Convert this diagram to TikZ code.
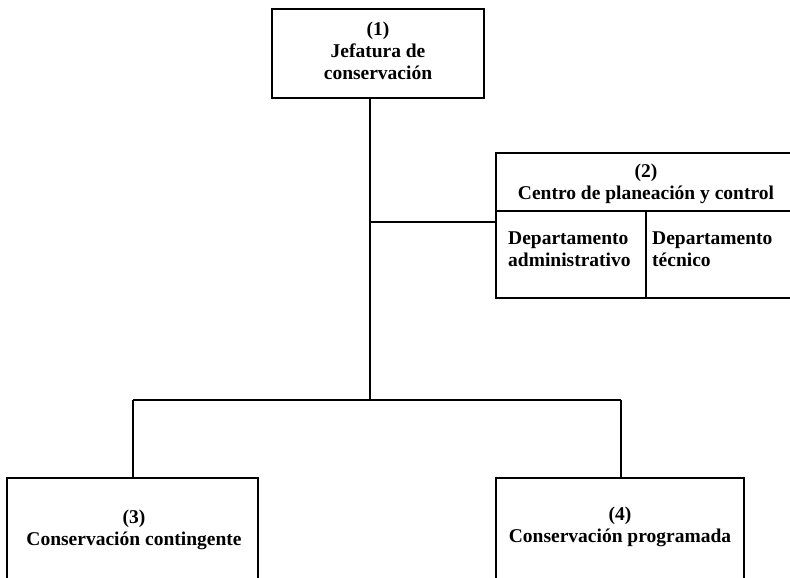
\documentclass[tikz,border=0pt]{standalone}
\usepackage{fontspec}
\setmainfont{Liberation Serif}
\begin{document}
\begin{tikzpicture}[x=1pt,y=-1pt,
  box/.style={draw, line width=1.8pt, inner sep=0pt},
  lbl/.style={font=\bfseries\fontsize{19.5}{22}\selectfont, align=center, inner sep=0pt},
  link/.style={line width=1.8pt}]
\useasboundingbox (0,0) rectangle (790,578);
\clip (0,0) rectangle (790,578);

% (1) head office
\node[box, minimum width=212pt, minimum height=89pt] (jef) at (378,53.5) {};
\node[lbl] (jeft) at (378,51) {(1)\\Jefatura de\\conservación};

% (2) planning and control centre (runs off the right edge)
\node[box, minimum width=340pt, minimum height=145pt] (cpc) at (666,225.5) {};
\coordinate (divl) at (496,211);
\coordinate (divr) at (820,211);
\coordinate (divm) at (646,211);
\draw[link] (divl) -- (divr);
\draw[link] (divm) -- (divm |- cpc.south);
\node[lbl] (cpct) at (646,184) {(2)\\Centro de planeación y control};
\node[lbl, anchor=west, align=left] (dadm) at (508,249) {Departamento\\administrativo};
\node[lbl, anchor=west, align=left] (dtec) at (652,249) {Departamento\\técnico};

% (3) and (4) lower boxes (run off the bottom edge)
\node[box, minimum width=251pt, minimum height=140pt] (con) at (132.5,548) {};
\node[lbl] (cont) at (134,530) {(3)\\Conservación contingente};
\node[box, minimum width=248pt, minimum height=140pt] (pro) at (620,548) {};
\node[lbl] (prot) at (620,527) {(4)\\Conservación programada};

% connectors
\coordinate (bar) at (370,400);
\coordinate (brl) at (133,400);
\coordinate (brr) at (621,400);
\coordinate (tee) at (370,222);
\draw[link] (jef.south -| bar) -- (bar);
\draw[link] (tee) -- (cpc.west |- tee);
\draw[link] (brl) -- (brr);
\draw[link] (brl) -- (brl |- con.north);
\draw[link] (brr) -- (brr |- pro.north);
\end{tikzpicture}
\end{document}
